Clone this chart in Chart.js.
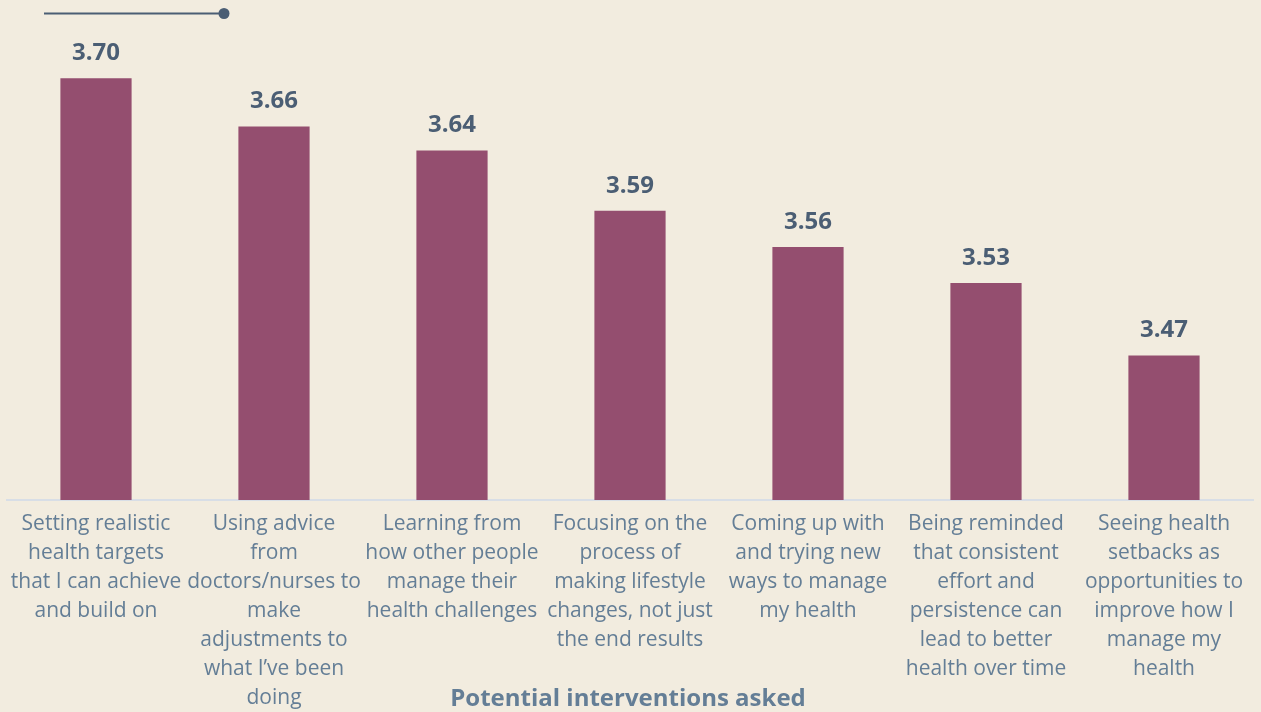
<!DOCTYPE html>
<html>
<head>
<meta charset="utf-8">
<script src="https://cdn.jsdelivr.net/npm/chart.js@4"></script>
<style>
html,body{margin:0;padding:0;background:#F2ECDF;}
#wrap{width:1261px;height:712px;position:relative;}
</style>
</head>
<body>
<div id="wrap"><canvas id="c" width="1261" height="712"></canvas></div>
<script>
const categories = [
  ["Setting realistic","health targets","that I can achieve","and build on"],
  ["Using advice","from","doctors/nurses to","make","adjustments to","what I\u2019ve been","doing"],
  ["Learning from","how other people","manage their","health challenges"],
  ["Focusing on the","process of","making lifestyle","changes, not just","the end results"],
  ["Coming up with","and trying new","ways to manage","my health"],
  ["Being reminded","that consistent","effort and","persistence can","lead to better","health over time"],
  ["Seeing health","setbacks as","opportunities to","improve how I","manage my","health"]
];
const values = [3.70, 3.66, 3.64, 3.59, 3.56, 3.53, 3.47];
const axisTitle = "Potential interventions asked";

const BAR = "#944E6F";
const LABEL = "#647E96";
const DARK = "#4B5E74";
const FONT = "'Open Sans', sans-serif";

const overlay = {
  id: 'overlay',
  afterDatasetsDraw(chart) {
    const ctx = chart.ctx;
    const meta = chart.getDatasetMeta(0);
    ctx.save();
    ctx.fillStyle = DARK;
    ctx.font = "bold 24px " + FONT;
    ctx.textAlign = 'center';
    ctx.textBaseline = 'middle';
    meta.data.forEach((bar, i) => {
      ctx.fillText(values[i].toFixed(2), bar.x, bar.y - 25);
    });
    // axis title
    ctx.fillStyle = LABEL;
    ctx.font = "bold 24px " + FONT;
    const ca = chart.chartArea;
    ctx.fillText(axisTitle, (ca.left + ca.right) / 2 - 2, 699);
    // decorative line
    ctx.fillStyle = DARK;
    ctx.strokeStyle = DARK;
    ctx.lineWidth = 2;
    ctx.beginPath();
    ctx.moveTo(44, 13.5);
    ctx.lineTo(224, 13.5);
    ctx.stroke();
    ctx.beginPath();
    ctx.arc(224, 13.5, 5.5, 0, Math.PI * 2);
    ctx.fill();
    ctx.restore();
  }
};

new Chart(document.getElementById('c'), {
  type: 'bar',
  data: {
    labels: categories,
    datasets: [{
      data: values,
      backgroundColor: BAR,
      barPercentage: 0.4,
      categoryPercentage: 1.0
    }]
  },
  options: {
    responsive: false,
    animation: false,
    layout: { padding: { top: 18, left: 7, right: 8, bottom: -11 } },
    plugins: { legend: { display: false }, tooltip: { enabled: false } },
    scales: {
      x: {
        grid: { display: false, drawTicks: false },
        border: { display: true, color: "#D8DEE6", width: 2 },
        ticks: {
          autoSkip: false, maxRotation: 0, minRotation: 0,
          padding: 10,
          color: LABEL,
          font: { family: FONT, size: 21, lineHeight: 1.381 }
        }
      },
      y: {
        display: false,
        min: 3.35, max: 3.75
      }
    }
  },
  plugins: [overlay]
});
</script>
</body>
</html>
